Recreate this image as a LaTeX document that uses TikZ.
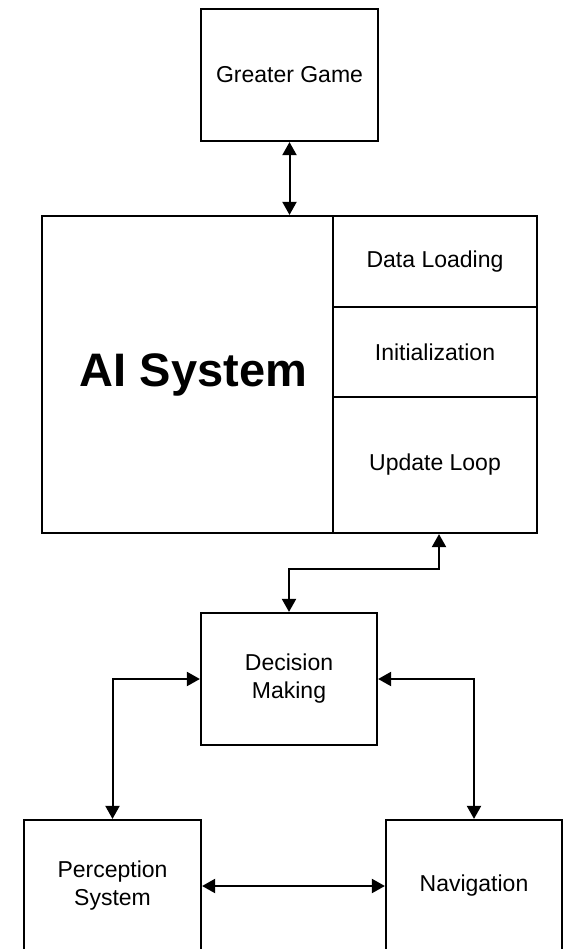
\documentclass[tikz,border=0pt]{standalone}
\usepackage{fontspec}
\setmainfont{Liberation Sans}
\usetikzlibrary{arrows.meta}
\begin{document}
\begin{tikzpicture}[x=1pt,y=-1pt,
  box/.style={draw=black, line width=2.2pt, rectangle, inner sep=0pt, align=center, font=\fontsize{23}{28}\selectfont},
  arr/.style={line width=2pt, {Triangle[length=13pt,width=14pt]}-{Triangle[length=13pt,width=14pt]}}]
\useasboundingbox (0,0) rectangle (566,949);
\clip (0,0) rectangle (566,949);
\fill[white] (0,0) rectangle (566,949);
\node[box, minimum width=177pt, minimum height=132pt] (gg) at (289.5,75) {Greater Game};
\node[box, minimum width=291pt, minimum height=317pt, font=\fontsize{47}{56}\selectfont\bfseries] (ai) at (187.5,374.5) {\hspace*{12pt}AI System};
\node[box, minimum width=204pt, minimum height=91pt] (dl) at (435,261.5) {Data Loading};
\node[box, minimum width=204pt, minimum height=90pt] (init) at (435,352) {Initialization};
\node[box, minimum width=204pt, minimum height=136pt] (upd) at (435,465) {Update Loop};
\node[box, minimum width=176pt, minimum height=132pt] (dm) at (289,679) {Decision\\Making};
\node[box, minimum width=177pt, minimum height=132pt] (per) at (112.5,886) {Perception\\System};
\node[box, minimum width=176pt, minimum height=132pt] (nav) at (474,886) {Navigation};
\coordinate (uarr) at ([xshift=4pt]upd.south);
\draw[arr] (gg.south) -- (gg.south |- ai.north);
\draw[arr] (uarr) -- ++(0,35) -| (dm.north);
\draw[arr] (dm.west) -| (per.north);
\draw[arr] (dm.east) -| (nav.north);
\draw[arr] (per.east) -- (nav.west);
\end{tikzpicture}
\end{document}
